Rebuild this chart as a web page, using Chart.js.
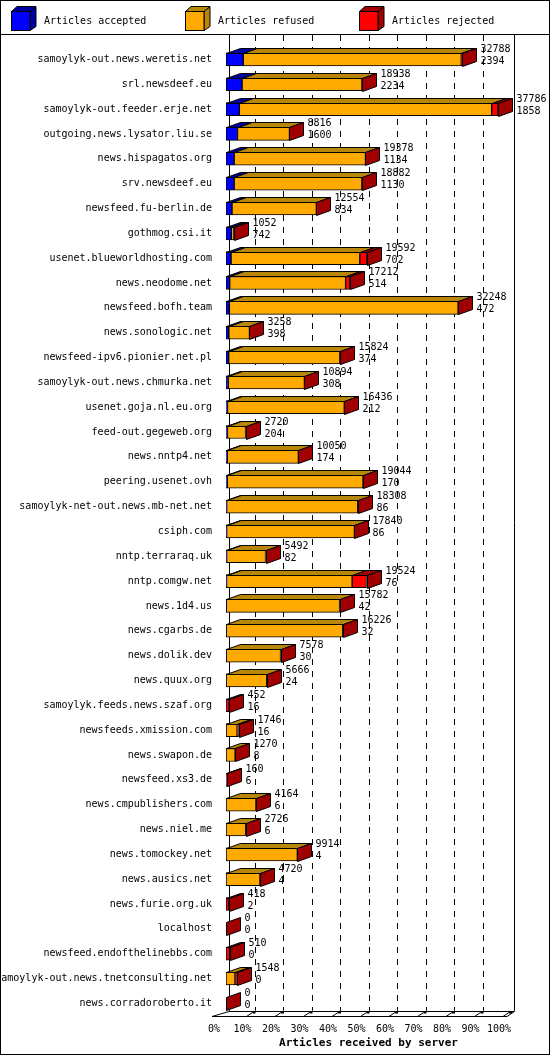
<!DOCTYPE html>
<html>
<head>
<meta charset="utf-8">
<script src="https://cdn.jsdelivr.net/npm/chart.js@4"></script>
<style>
body{margin:0;background:#fff;font-family:"DejaVu Sans Mono",monospace;}
#wrap{position:absolute;left:0;top:0;width:548px;height:1053px;border:1px solid #000;}
#legend{position:absolute;left:0;top:0;width:548px;height:33px;border-bottom:1px solid #000;}
#chartbox{position:absolute;left:0;top:34px;width:548px;height:1019px;}
</style>
</head>
<body>
<div id="wrap">
<canvas id="legend" width="548" height="33"></canvas>
<div id="chartbox"><canvas id="feedChart"></canvas></div>
</div>
<script>
// servers (top to bottom)
const servers = ["samoylyk-out.news.weretis.net","srl.newsdeef.eu","samoylyk-out.feeder.erje.net","outgoing.news.lysator.liu.se","news.hispagatos.org","srv.newsdeef.eu","newsfeed.fu-berlin.de","gothmog.csi.it","usenet.blueworldhosting.com","news.neodome.net","newsfeed.bofh.team","news.sonologic.net","newsfeed-ipv6.pionier.net.pl","samoylyk-out.news.chmurka.net","usenet.goja.nl.eu.org","feed-out.gegeweb.org","news.nntp4.net","peering.usenet.ovh","samoylyk-net-out.news.mb-net.net","csiph.com","nntp.terraraq.uk","nntp.comgw.net","news.1d4.us","news.cgarbs.de","news.dolik.dev","news.quux.org","samoylyk.feeds.news.szaf.org","newsfeeds.xmission.com","news.swapon.de","newsfeed.xs3.de","news.cmpublishers.com","news.niel.me","news.tomockey.net","news.ausics.net","news.furie.org.uk","localhost","newsfeed.endofthelinebbs.com","samoylyk-out.news.tnetconsulting.net","news.corradoroberto.it"];
const offered = [32788,18938,37786,8816,19378,18882,12554,1052,19592,17212,32248,3258,15824,10894,16436,2720,10050,19044,18308,17840,5492,19524,15782,16226,7578,5666,452,1746,1270,160,4164,2726,9914,4720,418,0,510,1548,0];
const accepted = [2394,2234,1858,1600,1134,1130,834,742,702,514,472,398,374,308,212,204,174,170,86,86,82,76,42,32,30,24,16,16,8,6,6,6,4,4,2,0,0,0,0];
const rejected = [100,50,870,0,0,0,0,0,1000,600,0,0,0,0,0,0,0,0,0,0,0,2000,0,0,0,0,430,200,0,154,0,0,0,0,416,0,510,300,0];
const refused = offered.map((t,i)=>Math.max(0,t-accepted[i]-rejected[i]));
const scaleMax = 39600;
const tickPercents = [0,10,20,30,40,50,60,70,80,90,100];

const DX = 14, DY = 5;
const FONT = '10px "DejaVu Sans Mono", monospace';

// legend
(function(){
  const c = document.getElementById('legend').getContext('2d');
  const items = [["Articles accepted","#0000ff","#0000a0"],["Articles refused","#ffaa00","#b8860b"],["Articles rejected","#ff0000","#a00000"]];
  const xs = [10,184,358];
  c.font = FONT; c.textBaseline = 'middle';
  items.forEach((it,i)=>{
    const x = xs[i], y = 10;
    c.lineWidth = 1; c.strokeStyle = '#000';
    c.fillStyle = it[2];
    c.beginPath(); c.moveTo(x+19,y+0.5); c.lineTo(x+25,y-4.5); c.lineTo(x+25,y+15.5); c.lineTo(x+19,y+19.5); c.closePath(); c.fill(); c.stroke();
    c.beginPath(); c.moveTo(x+0.5,y+0.5); c.lineTo(x+6,y-4.5); c.lineTo(x+25,y-4.5); c.lineTo(x+19,y+0.5); c.closePath(); c.fill(); c.stroke();
    c.fillStyle = it[1]; c.fillRect(x+0.5,y+0.5,18.5,19); c.strokeRect(x+0.5,y+0.5,18.5,19);
    c.fillStyle = '#000'; c.fillText(it[0], x+33, y+10);
  });
})();

const topColors = ["#0000a0","#b8860b","#a00000"];

const threeD = {
  id: 'threeD',
  beforeDatasetsDraw(chart){
    const ctx = chart.ctx, xs = chart.scales.x, a = chart.chartArea;
    ctx.save();
    ctx.strokeStyle = '#000'; ctx.lineWidth = 1;
    tickPercents.forEach(p=>{
      if(p===100) return;
      const px = Math.round(xs.getPixelForValue(p/100*scaleMax)) + (p===0 ? 3 : 0) + 0.5;
      ctx.setLineDash(p===0 ? [] : [6,6]);
      ctx.beginPath(); ctx.moveTo(px, a.top-12); ctx.lineTo(px, a.bottom-DY); ctx.stroke();
    });
    ctx.setLineDash([]);
    const rx = Math.round(xs.getPixelForValue(scaleMax)) + 3.5;
    ctx.beginPath(); ctx.moveTo(rx, -2); ctx.lineTo(rx, a.bottom-DY); ctx.stroke();
    // floor
    const x0 = xs.getPixelForValue(0), x1 = xs.getPixelForValue(scaleMax), yb = Math.round(a.bottom)+0.5;
    ctx.beginPath();
    ctx.moveTo(x0-DX,yb); ctx.lineTo(x1-4,yb); ctx.lineTo(rx,yb-DY); ctx.stroke();
    ctx.beginPath(); ctx.moveTo(x0-DX,yb); ctx.lineTo(x0+3,yb-DY); ctx.lineTo(rx,yb-DY); ctx.stroke();
    tickPercents.forEach(p=>{
      if(p===0) return;
      const px = xs.getPixelForValue(p/100*scaleMax);
      ctx.beginPath(); ctx.moveTo(px-8,yb); ctx.lineTo(px-2,yb-4); ctx.stroke();
      ctx.fillRect(px-2,yb-5,3,2);
    });
    ctx.restore();
  },
  afterDatasetsDraw(chart){
    const ctx = chart.ctx;
    ctx.save();
    ctx.strokeStyle = '#000'; ctx.lineWidth = 1;
    const n = servers.length;
    for(let i=0;i<n;i++){
      let endX = null, yTop = null, h = null;
      for(let d=0; d<3; d++){
        const el = chart.getDatasetMeta(d).data[i];
        const top = Math.round(el.y - el.height/2)+0.5;
        const x0 = Math.round(el.base)+0.5, x1 = Math.round(el.x)+0.5;
        endX = x1; yTop = top; h = Math.round(el.height);
        if(x1-x0 < 0.5) continue;
        ctx.fillStyle = topColors[d];
        ctx.beginPath(); ctx.moveTo(x0,top); ctx.lineTo(x0+DX,top-DY); ctx.lineTo(x1+DX,top-DY); ctx.lineTo(x1,top); ctx.closePath(); ctx.fill(); ctx.stroke();
      }
      ctx.fillStyle = topColors[2];
      ctx.beginPath(); ctx.moveTo(endX,yTop); ctx.lineTo(endX+DX,yTop-DY); ctx.lineTo(endX+DX,yTop+h-DY); ctx.lineTo(endX,yTop+h); ctx.closePath(); ctx.fill(); ctx.stroke();
      ctx.fillStyle = '#000'; ctx.font = FONT; ctx.textBaseline = 'middle'; ctx.textAlign = 'left';
      ctx.fillText(String(offered[i]), endX+DX+4, yTop-4);
      ctx.fillText(String(accepted[i]), endX+DX+4, yTop+8);
    }
    ctx.restore();
  }
};

const mk = (label, data, color) => ({label, data, backgroundColor: color, borderColor: '#000', borderWidth: 1, borderSkipped: false, barThickness: 13, stack: 's'});

new Chart('feedChart', {
  type: 'bar',
  data: {
    labels: servers,
    datasets: [mk("Articles accepted", accepted, "#0000ff"), mk("Articles refused", refused, "#ffaa00"), mk("Articles rejected", rejected, "#ff0000")]
  },
  options: {
    indexAxis: 'y',
    responsive: true,
    maintainAspectRatio: false,
    animation: false,
    layout: {padding: {top: 12, right: 38, bottom: 4, left: 0}},
    plugins: {legend: {display: false}, tooltip: {enabled: false}},
    scales: {
      x: {
        stacked: true, min: 0, max: scaleMax,
        afterBuildTicks(ax){ ax.ticks = tickPercents.map(p=>({value: p/100*scaleMax})); },
        ticks: {color: '#000', font: {family: '"DejaVu Sans Mono", monospace', size: 10}, padding: 0, maxRotation: 0,
          labelOffset: -12,
          callback: (v)=> Math.round(v/scaleMax*100) + '%'},
        grid: {display: false},
        border: {display: false},
        title: {display: true, text: 'Articles received by server', color: '#000', padding: {top: 1, bottom: 0},
          font: {family: '"DejaVu Sans Mono", monospace', size: 11, weight: 'bold'}}
      },
      y: {
        stacked: true,
        afterFit(ax){ ax.width = 225; },
        ticks: {color: '#000', font: {family: '"DejaVu Sans Mono", monospace', size: 10}, padding: 6, autoSkip: false},
        grid: {display: false},
        border: {display: false}
      }
    }
  },
  plugins: [threeD]
});
</script>
</body>
</html>
